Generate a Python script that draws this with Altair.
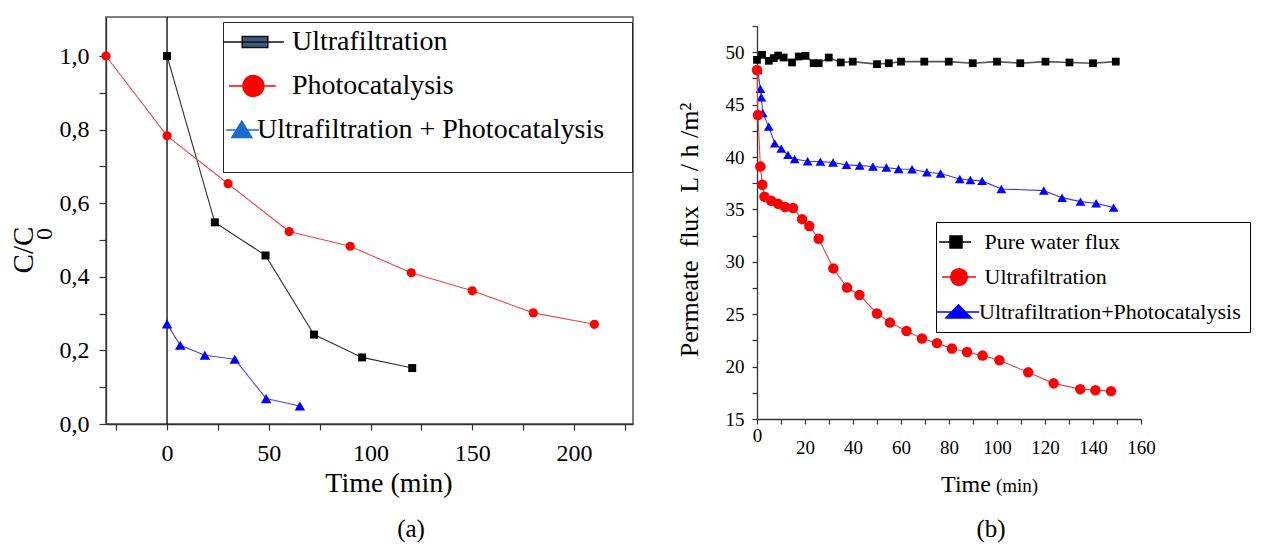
import altair as alt
import pandas as pd

FONT = "Liberation Serif"

# ---------------- panel (a): C/C0 versus time ----------------
a_uf_time = [0, 23.5, 48.4, 72.2, 95.9, 120.5]
a_uf_ratio = [1.0, 0.548, 0.458, 0.243, 0.181, 0.152]
a_pc_time = [-30, 0, 30, 60, 90, 120, 150, 180, 210]
a_pc_ratio = [1.0, 0.783, 0.653, 0.523, 0.483, 0.411, 0.362, 0.302, 0.271]
a_ufpc_time = [0, 6.5, 18.6, 33.3, 48.7, 65.3]
a_ufpc_ratio = [0.272, 0.214, 0.187, 0.176, 0.069, 0.049]
a_series = ["Ultrafiltration", "Photocatalysis", "Ultrafiltration + Photocatalysis"]
a_x_ticks = [-25, 0, 25, 50, 75, 100, 125, 150, 175, 200, 225]
a_y_ticks = [0.0, 0.1, 0.2, 0.3, 0.4, 0.5, 0.6, 0.7, 0.8, 0.9, 1.0]
a_zero_line = [0]

# ---------------- panel (b): permeate flux versus time ----------------
b_pure_time = [0, 2.1, 4.9, 7.0, 8.8, 11.1, 14.6, 17.4, 20.2, 23.6, 25.7, 29.9, 34.9,
               39.9, 50, 54.9, 60, 69.7, 79.9, 89.9, 100, 109.7, 120.2, 130.2, 140, 149.5]
b_pure_flux = [49.27, 49.75, 49.18, 49.43, 49.68, 49.49, 49.02, 49.59, 49.65, 48.95, 48.95,
               49.49, 49.02, 49.1, 48.86, 48.95, 49.1, 49.1, 49.1, 48.95, 49.1, 48.95, 49.1,
               49.02, 48.95, 49.1]
b_uf_time = [0, 0.4, 1.4, 2.2, 3.1, 5.9, 8.8, 11.7, 15.0, 18.8, 21.8, 25.7, 31.8, 37.5,
             42.7, 50, 55.4, 62.3, 68.75, 75, 81.2, 87.5, 94, 101, 113, 123.6, 134.7, 141, 147.5]
b_uf_flux = [48.3, 44.0, 39.1, 37.35, 36.2, 35.83, 35.53, 35.23, 35.13, 34.07, 33.42, 32.2,
             29.37, 27.55, 26.83, 25.07, 24.2, 23.39, 22.68, 22.24, 21.73, 21.4, 21.05, 20.6,
             19.45, 18.4, 17.85, 17.75, 17.66]
b_ufpc_time = [0.3, 1.4, 1.8, 2.4, 4.9, 7.4, 10.1, 12.9, 15.7, 21.1, 26.4, 31.7, 37.3, 42.8,
               48.3, 53.9, 59, 64.6, 70.8, 76.5, 84.5, 88.9, 93.8, 101.8, 119.5, 127.1, 134.8,
               141.3, 148.6]
b_ufpc_flux = [48.3, 46.5, 45.7, 44.2, 42.9, 41.3, 40.8, 40.2, 39.8, 39.6, 39.56, 39.47, 39.25,
               39.18, 39.1, 38.99, 38.86, 38.83, 38.54, 38.43, 37.9, 37.81, 37.72, 36.95, 36.79,
               36.12, 35.74, 35.58, 35.17]
b_series = ["Pure water flux", "Ultrafiltration", "Ultrafiltration+Photocatalysis"]
b_x_ticks = list(range(0, 161, 10))
b_y_ticks = [15, 17.5, 20, 22.5, 25, 27.5, 30, 32.5, 35, 37.5, 40, 42.5, 45, 47.5, 50, 52.5]

# text
a_xtitle = "Time (min)"
a_ytitle_main = "C/C"
a_ytitle_sub = "0"
a_caption = "(a)"
b_ytitle = "Permeate\u00a0\u00a0flux\u00a0\u00a0L / h /m\u00b2"
b_xtitle_main = "Time"
b_xtitle_unit = "(min)"
b_caption = "(b)"

ZW = "\u200b"
NB = "\u00a0"


def df_of(t, v):
    return pd.DataFrame({"time": t, "value": v})


def series_layers(t, v, X, Y, line_color, line_width, pt_color, shape, size):
    base = alt.Chart(df_of(t, v)).encode(x=X, y=Y)
    return [
        base.mark_line(color=line_color, strokeWidth=line_width),
        base.mark_point(shape=shape, filled=True, color=pt_color, size=size, opacity=1),
    ]


def text_layer(label, x, y, size, angle=None, baseline="middle", align="center"):
    kw = dict(font=FONT, fontSize=size, align=align, baseline=baseline, color="black")
    if angle is not None:
        kw["angle"] = angle
    return alt.Chart(pd.DataFrame({"label": [label]})).mark_text(**kw).encode(
        x=alt.value(x), y=alt.value(y), text="label:N")


def legend_layer(names, shapes, fills, strokes, legend):
    return alt.Chart(pd.DataFrame({"series": names})).mark_point(filled=True, opacity=0).encode(
        x=alt.value(150), y=alt.value(150),
        shape=alt.Shape("series:N", scale=alt.Scale(domain=names, range=shapes), legend=legend),
        fill=alt.Fill("series:N", scale=alt.Scale(domain=names, range=fills), legend=legend),
        stroke=alt.Stroke("series:N", scale=alt.Scale(domain=names, range=strokes), legend=legend),
    )


def axis(values, expr, size, tick, pad, fmt=None):
    kw = dict(values=values, title=None, grid=False, labelExpr=expr,
              domainColor="#333", domainWidth=1.3, tickColor="#333", tickWidth=1.2,
              tickSize=tick, labelFont=FONT, labelFontSize=size, labelColor="black",
              labelPadding=pad, labelFlush=False, labelOverlap=False)
    if fmt:
        kw["format"] = fmt
    return alt.Axis(**kw)


# ---------------- build panel (a) ----------------
a_X = alt.X("time:Q", scale=alt.Scale(domain=[-30, 229], nice=False, zero=False),
            axis=axis(a_x_ticks, "datum.value % 50 == 0 ? datum.label : ''", 24, 6, 11, "d"))
a_Y = alt.Y("value:Q", scale=alt.Scale(domain=[0, 1.106], nice=False, zero=False),
            axis=axis(a_y_ticks,
                      "round(datum.value*10) % 2 == 0 ? replace(format(datum.value, '.1f'), '.', ',') : ''",
                      24, 7, 10))

a_legend = alt.Legend(
    title=ZW + NB + ZW, titleOrient="bottom", titleFontSize=14, titlePadding=8,
    orient="none", legendX=117, legendY=5, padding=6,
    strokeColor="#222", fillColor="white", symbolSize=256, symbolStrokeWidth=1.5,
    symbolOpacity=1, symbolOffset=0, labelOffset=0, rowPadding=16,
    labelFont=FONT, labelFontSize=28, labelColor="black", labelLimit=700,
    labelExpr=("datum.label == 'Ultrafiltration + Photocatalysis' ? datum.label + '" + NB * 3 + ZW
               + "' : '" + ZW + NB * 5 + "' + datum.label"),
)
a_shapes = [
    "M-2.5,0H5.1M-0.1,-0.7H3.1V0.7H-0.1Z",
    "M-1.75,0H4.1M0,0A1.3,1.3 0 1,0 2.6,0A1.3,1.3 0 1,0 0,0Z",
    "M-2.1,0H2M-0.15,-1.1L1.1,0.95H-1.4Z",
]

a_layers = [
    alt.Chart(pd.DataFrame({"time": a_zero_line})).mark_rule(color="black", strokeWidth=1.3)
    .encode(x=a_X),
]
a_layers += series_layers(a_uf_time, a_uf_ratio, a_X, a_Y, "#333333", 1.1, "black", "square", 64)
a_layers += series_layers(a_pc_time, a_pc_ratio, a_X, a_Y, "#e84a4a", 1.1, "#ff0000", "circle", 85)
a_layers += series_layers(a_ufpc_time, a_ufpc_ratio, a_X, a_Y, "#4a4acc", 1.1, "#0000ff", "triangle-up", 110)
a_layers += [
    legend_layer(a_series, a_shapes, ["#3d5a80", "#ff0000", "#1a6ccc"],
                 ["#111111", "#ff0000", "#1a6ccc"], a_legend),
    text_layer(a_xtitle, 283, 467, 28),
    text_layer(a_ytitle_main, -82, 233, 29, angle=270),
    text_layer(a_ytitle_sub, -61, 217, 24, angle=270),
    text_layer(a_caption, 305, 512, 25),
]
panel_a = alt.layer(*a_layers).properties(
    width=527, height=407, view=alt.ViewBackground(stroke="#555", strokeWidth=1.5))

# ---------------- build panel (b) ----------------
b_x_axis = axis(b_x_ticks, "datum.value % 20 == 0 ? datum.label : ''", 19, 5,
                {"condition": {"test": "datum.value === 0", "value": 2}, "value": 14}, "d")
b_X = alt.X("time:Q", scale=alt.Scale(domain=[0, 160], nice=False, zero=False), axis=b_x_axis)
b_Y = alt.Y("value:Q", scale=alt.Scale(domain=[15, 52.5], range=[402, 9], nice=False, zero=False),
            axis=axis(b_y_ticks, "datum.value % 5 == 0 ? datum.label : ''", 19, 5, 8, "d"))

b_legend = alt.Legend(
    title=None, orient="none", legendX=179, legendY=205, padding=9,
    strokeColor="black", fillColor="white", symbolSize=256, symbolStrokeWidth=1.5,
    symbolOpacity=1, symbolOffset=0, labelOffset=12, rowPadding=12,
    labelFont=FONT, labelFontSize=22, labelColor="black", labelLimit=600,
    labelExpr="datum.label == 'Ultrafiltration+Photocatalysis' ? datum.label : '" + ZW + NB + "' + datum.label",
)
b_shapes = [
    "M-2.1,0H1.9M-0.75,-0.75H0.75V0.75H-0.75Z",
    "M-1.75,0H2.5M-0.665,0A1.04,1.04 0 1,0 1.415,0A1.04,1.04 0 1,0 -0.665,0Z",
    "M-2.5,0H2.9M0.3,-0.9L1.9,0.75H-1.25Z",
]

b_layers = []
b_layers += series_layers(b_pure_time, b_pure_flux, b_X, b_Y, "#555555", 1.6, "black", "square", 60)
b_layers += series_layers(b_ufpc_time, b_ufpc_flux, b_X, b_Y, "#3a3ad8", 1.1, "#0000ff", "triangle-up", 95)
b_layers += series_layers(b_uf_time, b_uf_flux, b_X, b_Y, "#e04848", 1.1, "#ff0000", "circle", 110)
b_layers += [
    legend_layer(b_series, b_shapes, ["black", "#ff0000", "#0000ff"],
                 ["black", "#ff0000", "#0000ff"], b_legend),
    text_layer(b_ytitle, -67, 213, 26, angle=270),
    text_layer(b_xtitle_main, 209, 475, 24, baseline="alphabetic"),
    text_layer(b_xtitle_unit, 260, 475, 19, baseline="alphabetic"),
    text_layer(b_caption, 234, 512, 25),
]
panel_b = alt.layer(*b_layers).properties(
    width=384, height=402, view=alt.ViewBackground(stroke="transparent", strokeWidth=0))

chart = alt.hconcat(panel_a, panel_b, spacing=124, bounds="flush",
                    padding={"left": 1, "top": 7, "right": 0, "bottom": 0}).resolve_scale(
    shape="independent", fill="independent", stroke="independent", x="independent", y="independent"
).resolve_legend(shape="independent", fill="independent", stroke="independent").configure_view(
    strokeWidth=0).configure(background="white")

chart.save("out.html", embed_options={"renderer": "svg", "actions": False})
